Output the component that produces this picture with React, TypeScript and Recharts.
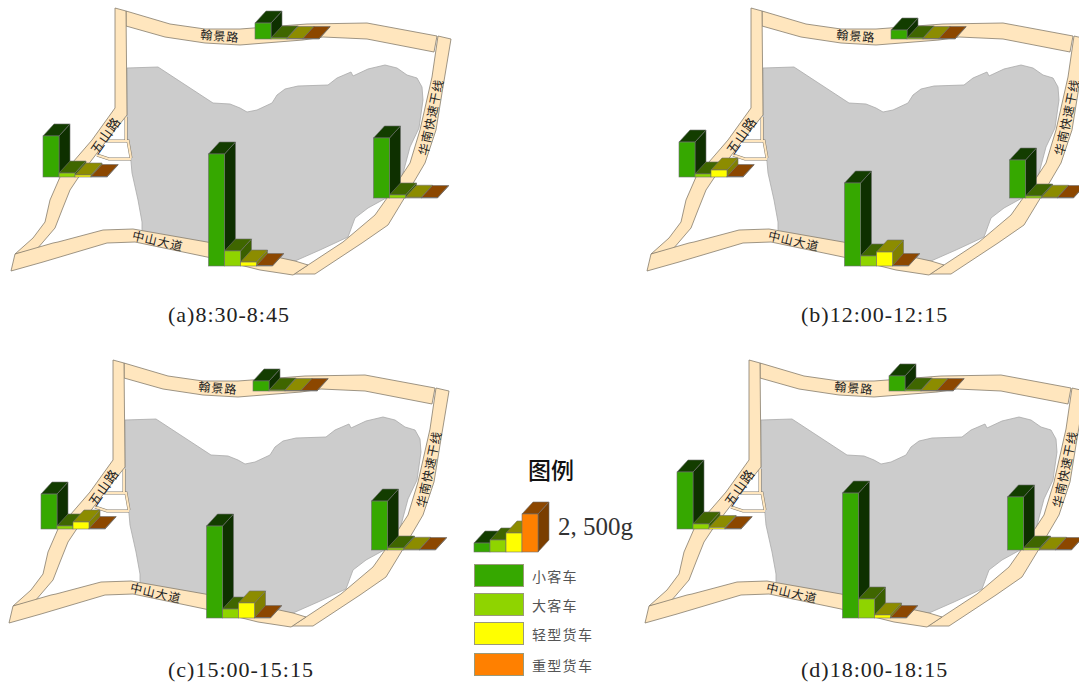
import React from "react";
import { BarChart, ComposedChart, Bar, Scatter, XAxis, YAxis } from "recharts";

const GRAMS_PER_PX = 2500 / 38;

const SITE_NAMES = ["翰景路", "五山路", "中山大道", "华南快速干线"];
const SITE_X = [287, 75, 240, 405];
const SITE_BASE = [39, 177, 266, 198];

const SMALL_A = [1050, 2700, 7370, 3950];
const LARGE_A = [70, 260, 990, 200];
const LIGHT_A = [30, 130, 260, 50];
const HEAVY_A = [30, 30, 30, 30];

const SMALL_B = [590, 2300, 5460, 2500];
const LARGE_B = [70, 200, 660, 130];
const LIGHT_B = [30, 460, 920, 50];
const HEAVY_B = [30, 30, 30, 30];

const SMALL_C = [660, 2300, 6050, 3220];
const LARGE_C = [60, 200, 590, 130];
const LIGHT_C = [30, 460, 990, 50];
const HEAVY_C = [30, 30, 30, 30];

const SMALL_D = [990, 3750, 8220, 3490];
const LARGE_D = [70, 330, 1250, 130];
const LIGHT_D = [30, 100, 200, 50];
const HEAVY_D = [30, 30, 30, 30];

const LEGEND_VALUES = [590, 790, 1250, 2500];

const VEHICLES = ["小客车", "大客车", "轻型货车", "重型货车"];
const SERIES_KEYS = ["small", "large", "light", "heavy"];
const FRONT = ["#36a800", "#8fd400", "#ffff00", "#ff8000"];
const TOP = ["#133d00", "#3f6600", "#8c8c00", "#8c4700"];
const SIDE = ["#0e3000", "#3a5f00", "#808000", "#7a3e00"];

const GREY_AREA = [
  [127, 68], [158, 67], [213, 103], [230, 104], [240, 108], [247, 112], [257, 110], [272, 103], [277, 95],
  [285, 89], [298, 86], [328, 85], [337, 78], [351, 72], [353, 76], [368, 69], [385, 65], [397, 68], [407, 75],
  [417, 78], [422, 87], [423, 100], [419, 128], [410, 147], [402, 177], [388, 197], [368, 208], [355, 218],
  [348, 237], [320, 250], [295, 261], [207, 250], [142, 232], [142, 222], [138, 200], [132, 173], [130, 150],
  [127, 138],
];
const ROAD_NORTH = [
  [126, 11], [170, 24], [205, 29], [240, 29], [307, 24], [367, 23], [437, 36], [434, 52], [367, 39], [323, 37],
  [303, 40], [240, 45], [205, 43], [165, 37], [126, 26],
];
const ROAD_WEST = [
  [115, 8], [126, 11], [127, 115], [107, 140], [78, 178], [70, 190], [62, 210], [55, 228], [37, 249], [15, 254],
  [33, 238], [45, 222], [50, 200], [60, 177], [92, 140], [115, 108],
];
const ROAD_EAST = [
  [438, 36], [451, 39], [442, 93], [436, 130], [425, 163], [405, 197], [388, 225], [362, 243], [315, 274],
  [294, 274], [308, 265], [343, 242], [375, 215], [387, 198], [410, 163], [420, 130], [432, 77],
];
const ROAD_SOUTH = [
  [15, 254], [53, 243], [58, 242], [103, 230], [133, 229], [207, 242], [295, 261], [308, 265], [293, 275],
  [260, 270], [240, 265], [207, 257], [135, 242], [107, 243], [43, 262], [11, 271],
];
const LANE_A = [[126, 117], [126, 140]];
const LANE_B = [[107, 141], [128, 141], [131, 158]];
const LANE_C = [[97, 155], [109, 159], [131, 159]];

const LABEL_X = [220, 105, 158, 430];
const LABEL_Y = [35, 135, 240, 117];
const LABEL_ANGLE = [5, -55, 13, -78];
const LABEL_SIZE = [12, 13, 12, 12];

const pts = (list: number[][]) => list.map(([x, y]) => ({ x, y }));
const labelRows = SITE_NAMES.map((name, i) => ({
  name,
  x: LABEL_X[i],
  y: LABEL_Y[i],
  angle: LABEL_ANGLE[i],
  size: LABEL_SIZE[i],
}));

const DEPTH_X = 11;
const DEPTH_Y = 12;

function Bar3D(props: any) {
  const { x, y, width, height, kind } = props;
  const h = Math.abs(height);
  const yTop = height < 0 ? y + height : y;
  const edge = { stroke: "#6f6f6f", strokeWidth: 0.6 };
  return (
    <g>
      <polygon
        points={`${x + width},${yTop} ${x + width + DEPTH_X},${yTop - DEPTH_Y} ${x + width + DEPTH_X},${yTop + h - DEPTH_Y} ${x + width},${yTop + h}`}
        fill={SIDE[kind]}
        {...edge}
      />
      <polygon
        points={`${x},${yTop} ${x + DEPTH_X},${yTop - DEPTH_Y} ${x + width + DEPTH_X},${yTop - DEPTH_Y} ${x + width},${yTop}`}
        fill={TOP[kind]}
        {...edge}
      />
      <rect x={x} y={yTop} width={width} height={h} fill={FRONT[kind]} {...edge} />
    </g>
  );
}

const noPoint = () => <g />;

function RoadLabel(props: any) {
  const { cx, cy, payload } = props;
  return (
    <text
      x={cx}
      y={cy}
      transform={`rotate(${payload.angle} ${cx} ${cy})`}
      textAnchor="middle"
      dominantBaseline="central"
      fontFamily="Noto Sans CJK SC"
      fontSize={payload.size}
      letterSpacing={1}
      fill="#222"
    >
      {payload.name}
    </text>
  );
}

function areaShape(data: number[][], fill: string, stroke: string, z: number, key: string) {
  return (
    <Scatter
      key={key}
      data={pts(data)}
      shape={noPoint}
      line={{ fill, stroke, strokeWidth: 0.8 }}
      lineJointType="linearClosed"
      isAnimationActive={false}
      zIndex={z}
    />
  );
}

function laneShape(data: number[][], stroke: string, w: number, z: number, key: string) {
  return (
    <Scatter
      key={key}
      data={pts(data)}
      shape={noPoint}
      line={{ stroke, strokeWidth: w, fill: "none" }}
      lineJointType="linear"
      isAnimationActive={false}
      zIndex={z}
    />
  );
}

// one chart of grouped bars laid over the map; rows must stay more than a group wide apart
function SiteBars({ rows, left, top, width, height, x0 = 0, y0 = 0 }: any) {
  return (
    <div style={{ position: "absolute", left, top }}>
      <BarChart width={width} height={height} data={rows} margin={{ top: 0, right: 0, bottom: 0, left: 0 }} barGap={0}>
        <XAxis dataKey="x" type="number" domain={[x0, x0 + width]} hide />
        <YAxis type="number" domain={[y0, y0 + height]} reversed hide />
        {SERIES_KEYS.map((keyName, kind) => (
          <Bar
            key={keyName}
            dataKey={(r: any) => [r.base, r.base - r[keyName] / GRAMS_PER_PX]}
            barSize={16}
            fill={FRONT[kind]}
            shape={(p: any) => <Bar3D {...p} kind={kind} />}
            isAnimationActive={false}
          />
        ))}
      </BarChart>
    </div>
  );
}

const ROAD_FILL = "#ffe6be";
const ROAD_EDGE = "#857c6c";

function MapPanel({ left, top, small, large, light, heavy, caption, captionX, captionY }: any) {
  const rows = SITE_X.map((x, i) => ({
    x,
    base: SITE_BASE[i],
    small: small[i],
    large: large[i],
    light: light[i],
    heavy: heavy[i],
  }));
  return (
    <>
      <div style={{ position: "absolute", left, top }}>
        <ComposedChart width={480} height={290} margin={{ top: 0, right: 0, bottom: 0, left: 0 }}>
          <XAxis dataKey="x" type="number" domain={[0, 480]} hide />
          <YAxis dataKey="y" type="number" domain={[0, 290]} reversed hide />
          {areaShape(GREY_AREA, "#cccccc", "#a9a9a9", 100, "grey")}
          {laneShape(LANE_A, ROAD_EDGE, 3, 110, "la0")}
          {laneShape(LANE_B, ROAD_EDGE, 3, 110, "lb0")}
          {laneShape(LANE_C, ROAD_EDGE, 3, 110, "lc0")}
          {laneShape(LANE_A, ROAD_FILL, 2, 111, "la1")}
          {laneShape(LANE_B, ROAD_FILL, 2, 111, "lb1")}
          {laneShape(LANE_C, ROAD_FILL, 2, 111, "lc1")}
          {areaShape(ROAD_NORTH, ROAD_FILL, ROAD_EDGE, 120, "north")}
          {areaShape(ROAD_WEST, ROAD_FILL, ROAD_EDGE, 120, "west")}
          {areaShape(ROAD_EAST, ROAD_FILL, ROAD_EDGE, 120, "east")}
          {areaShape(ROAD_SOUTH, ROAD_FILL, ROAD_EDGE, 120, "south")}
          <Scatter data={labelRows} shape={RoadLabel} isAnimationActive={false} zIndex={130} />
        </ComposedChart>
      </div>
      <SiteBars rows={[rows[1], rows[0]]} left={left} top={top} width={480} height={290} />
      <SiteBars rows={[rows[2], rows[3]]} left={left} top={top} width={480} height={290} />
      <div
        style={{
          position: "absolute",
          left: captionX,
          top: captionY,
          fontFamily: "Liberation Serif",
          fontSize: 22,
          letterSpacing: 1,
          lineHeight: "24px",
          color: "#222",
          whiteSpace: "nowrap",
        }}
      >
        {caption}
      </div>
    </>
  );
}

function LegendBox() {
  const row = [{ x: 506, base: 552, small: LEGEND_VALUES[0], large: LEGEND_VALUES[1], light: LEGEND_VALUES[2], heavy: LEGEND_VALUES[3] }];
  return (
    <>
      <div style={{ position: "absolute", left: 528, top: 454, fontFamily: "Noto Sans CJK SC", fontSize: 23, lineHeight: "30px", fontWeight: 500, color: "#111" }}>
        图例
      </div>
      <SiteBars rows={row} left={460} top={490} width={100} height={70} x0={460} y0={490} />
      <div style={{ position: "absolute", left: 558, top: 512, fontFamily: "Liberation Serif", fontSize: 25, lineHeight: "30px", color: "#333" }}>
        2, 500g
      </div>
      {VEHICLES.map((name, i) => (
        <div key={name} style={{ position: "absolute", left: 474, top: [564, 593, 622, 653][i], display: "flex", alignItems: "center" }}>
          <div style={{ width: 48, height: 21, background: FRONT[i], border: "1px solid #9a9a7a" }} />
          <div style={{ marginLeft: 8, fontFamily: "Noto Sans CJK SC", fontSize: 14, letterSpacing: 1.3, color: "#555" }}>{name}</div>
        </div>
      ))}
    </>
  );
}

export default function App() {
  return (
    <div style={{ position: "absolute", left: 0, top: 0, width: 1079, height: 682, overflow: "hidden", background: "#fff" }}>
      <MapPanel left={0} top={0} small={SMALL_A} large={LARGE_A} light={LIGHT_A} heavy={HEAVY_A} caption="(a)8:30-8:45" captionX={168} captionY={303} />
      <MapPanel left={636} top={0} small={SMALL_B} large={LARGE_B} light={LIGHT_B} heavy={HEAVY_B} caption="(b)12:00-12:15" captionX={801} captionY={303} />
      <MapPanel left={-2} top={352} small={SMALL_C} large={LARGE_C} light={LIGHT_C} heavy={HEAVY_C} caption="(c)15:00-15:15" captionX={168} captionY={658} />
      <MapPanel left={634} top={352} small={SMALL_D} large={LARGE_D} light={LIGHT_D} heavy={HEAVY_D} caption="(d)18:00-18:15" captionX={801} captionY={658} />
      <LegendBox />
    </div>
  );
}
